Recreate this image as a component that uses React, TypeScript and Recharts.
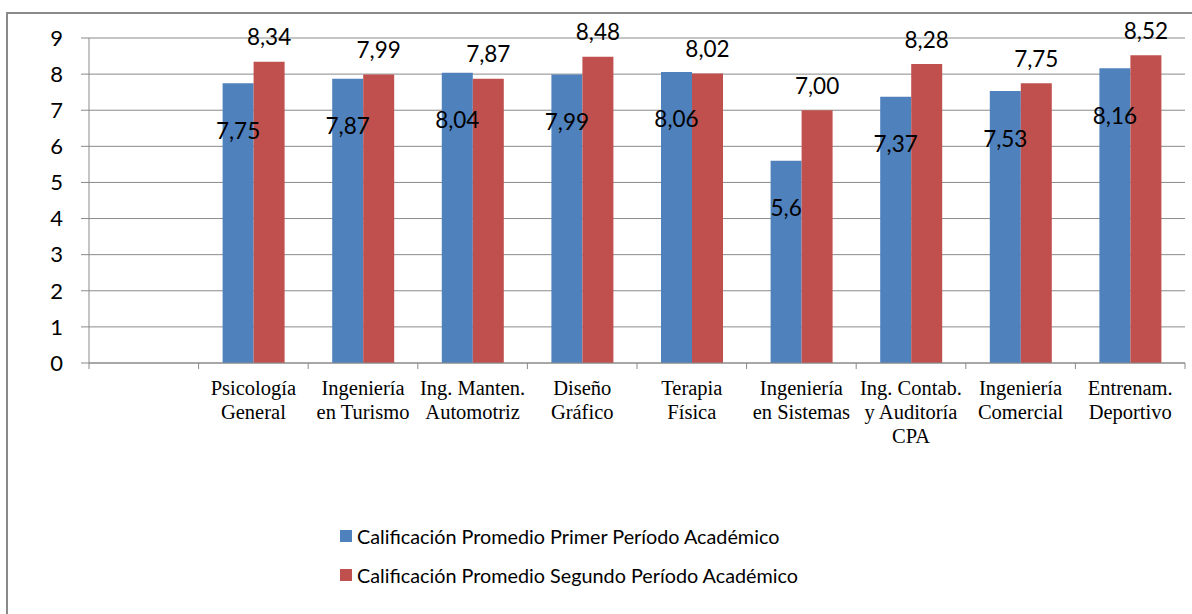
import React from 'react';
import { BarChart, Bar, XAxis, YAxis, CartesianGrid, Legend, LabelList } from 'recharts';

const CATEGORIES = [
  '',
  'Psicología\nGeneral',
  'Ingeniería\nen Turismo',
  'Ing. Manten.\nAutomotriz',
  'Diseño\nGráfico',
  'Terapia\nFísica',
  'Ingeniería\nen Sistemas',
  'Ing. Contab.\ny Auditoría\nCPA',
  'Ingeniería\nComercial',
  'Entrenam.\nDeportivo',
];
const PRIMER = [null, 7.75, 7.87, 8.04, 7.99, 8.06, 5.6, 7.37, 7.53, 8.16];
const SEGUNDO = [null, 8.34, 7.99, 7.87, 8.48, 8.02, 7.0, 8.28, 7.75, 8.52];
const Y_TICKS = [0, 1, 2, 3, 4, 5, 6, 7, 8, 9];

const SERIES_PRIMER = 'Calificación Promedio Primer Período Académico';
const SERIES_SEGUNDO = 'Calificación Promedio Segundo Período Académico';

const data = CATEGORIES.map((name, i) => ({ name, primer: PRIMER[i], segundo: SEGUNDO[i] }));

const BLUE = '#4F81BD';
const RED = '#C0504D';
const GRID = '#8a8a8a';
const SANS = 'Lato, "Open Sans", sans-serif';

// plot area: x 89..1185
const PLOT_W = 1185 - 89;
const HALF_BAND = PLOT_W / CATEGORIES.length / 2;

function CategoryTick(props: any) {
  const { x, y, payload, index } = props;
  const lines = String(payload.value).split('\n');
  return (
    <g>
      <line x1={x - HALF_BAND} y1={y} x2={x - HALF_BAND} y2={y + 6} stroke={GRID} />
      {index === CATEGORIES.length - 1 && (
        <line x1={x + HALF_BAND} y1={y} x2={x + HALF_BAND} y2={y + 6} stroke={GRID} />
      )}
      <text x={x} y={y + 32} textAnchor="middle" fontFamily='"Liberation Serif", serif' fontSize={20.5} fill="#000">
        {lines.map((l, i) => (
          <tspan key={i} x={x} dy={i === 0 ? 0 : 24}>{l}</tspan>
        ))}
      </text>
    </g>
  );
}

const primerLabel = (p: any) => {
  if (p.value == null) return null;
  const x = Number(p.x) + Number(p.width) / 2;
  return (
    <text x={x} y={Number(p.y) + 47} textAnchor="middle" dominantBaseline="central" fontFamily={SANS} fontSize={22.5} fill="#000">
      {String(p.value).replace('.', ',')}
    </text>
  );
};

const segundoLabel = (p: any) => {
  if (p.value == null) return null;
  const x = Number(p.x) + Number(p.width) / 2;
  return (
    <text x={x} y={Number(p.y) - 25} textAnchor="middle" dominantBaseline="central" fontFamily={SANS} fontSize={22.5} fill="#000">
      {Number(p.value).toFixed(2).replace('.', ',')}
    </text>
  );
};

const renderLegend = (props: any) => (
  <div style={{ fontFamily: SANS, fontSize: 19.8, color: '#000' }}>
    {(props.payload || []).map((e: any) => (
      <div key={e.value} style={{ display: 'flex', alignItems: 'center', height: 38.5 }}>
        <span style={{ display: 'inline-block', width: 12, height: 12, background: e.color, marginRight: 5 }} />
        <span>{e.value}</span>
      </div>
    ))}
  </div>
);

export default function App() {
  return (
    <div style={{ position: 'fixed', left: 0, top: 0, width: 1192, height: 614, background: '#fff', overflow: 'hidden' }}>
      <div style={{ position: 'absolute', left: 6, top: 12, width: 1300, height: 800, borderLeft: `2px solid ${GRID}`, borderTop: `2px solid ${GRID}` }} />
      <div style={{ position: 'absolute', left: 0, top: 0 }}>
        <BarChart
          width={1192}
          height={614}
          data={data}
          margin={{ top: 38, right: 7, left: 29, bottom: 151 }}
          barCategoryGap={24}
          barGap={0}
        >
          <CartesianGrid vertical={false} stroke={GRID} />
          <XAxis
            dataKey="name"
            interval={0}
            height={100}
            tickSize={0}
            tickMargin={0}
            tickLine={false}
            axisLine={{ stroke: GRID }}
            tick={<CategoryTick />}
          />
          <YAxis
            domain={[0, 9]}
            ticks={Y_TICKS}
            width={60}
            tickSize={8}
            tickMargin={18}
            axisLine={{ stroke: GRID }}
            tickLine={{ stroke: GRID }}
            tick={{ fill: '#000', fontFamily: SANS, fontSize: 22 }}
          />
          <Legend
            layout="vertical"
            align="center"
            verticalAlign="middle"
            wrapperStyle={{ position: 'absolute', left: 340, top: 517, width: 560 }}
            content={renderLegend}
          />
          <Bar dataKey="primer" name={SERIES_PRIMER} fill={BLUE} isAnimationActive={false}>
            <LabelList dataKey="primer" content={primerLabel} />
          </Bar>
          <Bar dataKey="segundo" name={SERIES_SEGUNDO} fill={RED} isAnimationActive={false}>
            <LabelList dataKey="segundo" content={segundoLabel} />
          </Bar>
        </BarChart>
      </div>
    </div>
  );
}
